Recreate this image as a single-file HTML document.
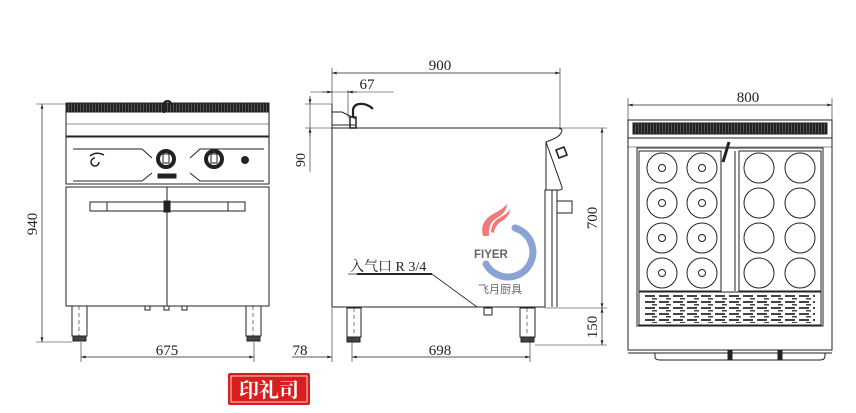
<!DOCTYPE html>
<html><head><meta charset="utf-8"><style>
html,body{margin:0;padding:0;background:#fff;width:856px;height:413px;overflow:hidden}
svg{display:block}
text{font-family:"Liberation Serif",serif;fill:#222}
</style></head><body>
<svg width="856" height="413" viewBox="0 0 856 413" xmlns="http://www.w3.org/2000/svg">
<defs>
<pattern id="gr" width="3" height="8" patternUnits="userSpaceOnUse"><rect width="3" height="8" fill="#555"/><rect width="2" height="8" fill="#222"/></pattern>
<pattern id="vent" width="14" height="6" patternUnits="userSpaceOnUse"><rect width="14" height="6" fill="#fff"/><rect x="1" y="1" width="10" height="2" fill="#444"/><rect x="8" y="4" width="5" height="1.5" fill="#444"/></pattern>
<marker id="a" viewBox="0 0 10 6" refX="10" refY="3" markerWidth="8" markerHeight="4" orient="auto-start-reverse"><path d="M0,0L10,3L0,6z" fill="#222"/></marker>
</defs>
<g fill="none" stroke="#222" stroke-width="1">
<!-- FRONT VIEW -->
<rect x="66" y="103" width="203" height="9" fill="url(#gr)"/>
<rect x="66" y="112" width="203" height="24"/>
<line x1="66" y1="124" x2="269" y2="124" stroke-width="0.6"/>
<rect x="66" y="137" width="203" height="47"/>
<path d="M73,149H142L152,158M152,173L142,181H73M264,149H200L190,158M190,173L200,181H264"/>
<circle cx="166" cy="159" r="8" stroke-width="4"/><circle cx="214" cy="159" r="8" stroke-width="4"/>
<rect x="163" y="154" width="6" height="9" fill="#fff" stroke-width="1"/><rect x="211" y="154" width="6" height="9" fill="#fff" stroke-width="1"/>
<circle cx="245" cy="160" r="3.5" fill="#222"/>
<path d="M90,156Q96,151 104,155M95,158a4,4 0 1 0 4,4" stroke-width="1.5"/>
<rect x="158" y="174" width="18" height="4" fill="#222"/>
<path d="M164,113V104q0,-3 4,-3q3,0 3,4" stroke-width="2"/>
<rect x="66" y="187" width="203" height="119"/>
<line x1="167" y1="187" x2="167" y2="306"/>
<rect x="90" y="202" width="155" height="9"/><line x1="107" y1="202" x2="107" y2="211"/><line x1="228" y1="202" x2="228" y2="211"/>
<rect x="164" y="201" width="6" height="11" fill="#222"/>
<rect x="72" y="306" width="15" height="30"/><rect x="246" y="306" width="15" height="30"/>
<rect x="73" y="336" width="13" height="5" fill="#444"/><rect x="247" y="336" width="13" height="5" fill="#444"/>
<line x1="79" y1="306" x2="79" y2="336" stroke-dasharray="4,3" stroke-width="0.6"/><line x1="253" y1="306" x2="253" y2="336" stroke-dasharray="4,3" stroke-width="0.6"/>
<rect x="145" y="306" width="5" height="4"/><rect x="164" y="306" width="5" height="4"/><rect x="182" y="306" width="5" height="4"/>
<!-- dims front -->
<line x1="36" y1="104" x2="66" y2="104" stroke-width="0.6"/><line x1="36" y1="342" x2="72" y2="342" stroke-width="0.6"/>
<line x1="42" y1="104" x2="42" y2="342" marker-start="url(#a)" marker-end="url(#a)" stroke-width="0.7"/>
<line x1="81" y1="342" x2="81" y2="362" stroke-width="0.6"/><line x1="254" y1="342" x2="254" y2="362" stroke-width="0.6"/>
<line x1="81" y1="357" x2="254" y2="357" marker-start="url(#a)" marker-end="url(#a)" stroke-width="0.7"/>
<!-- SIDE VIEW -->
<path d="M332,128H558q6,0 3,5q-2,4 -10,7L546,142l16,45q1,3 -3,3H545V307H332Z"/>
<line x1="546" y1="142" x2="546" y2="190"/>
<path d="M552,190V307M557,190V307"/>
<rect x="557" y="201" width="15" height="12"/>
<path d="M556,150l8,-3l3,8l-8,3z" stroke-width="1.6"/>
<path d="M332,104v24M332,112h10l14,7v6h-24" />
<rect x="350" y="117" width="6" height="11" stroke-width="1.5"/>
<path d="M353,117V111q0,-6 6,-7q8,-1 14,5" stroke-width="2.2"/>
<rect x="347" y="308" width="14" height="29"/><rect x="520" y="308" width="15" height="29"/>
<rect x="347" y="337" width="13" height="5" fill="#444"/><rect x="521" y="337" width="13" height="5" fill="#444"/>
<line x1="354" y1="308" x2="354" y2="336" stroke-dasharray="4,3" stroke-width="0.6"/><line x1="527" y1="308" x2="527" y2="336" stroke-dasharray="4,3" stroke-width="0.6"/>
<rect x="484" y="308" width="8" height="7"/>
<path d="M348,274H432L477,307" stroke-width="0.8"/><line x1="357" y1="274" x2="432" y2="274" stroke-width="2"/>
<!-- dims side -->
<line x1="332" y1="68" x2="332" y2="128" stroke-width="0.6"/><line x1="560" y1="68" x2="560" y2="130" stroke-width="0.6"/>
<line x1="332" y1="73" x2="560" y2="73" marker-start="url(#a)" marker-end="url(#a)" stroke-width="0.7"/>
<line x1="310" y1="92" x2="394" y2="92" stroke-width="0.6"/><line x1="322" y1="92" x2="332" y2="92" marker-end="url(#a)" stroke-width="0.7"/><line x1="357" y1="92" x2="348" y2="92" marker-end="url(#a)" stroke-width="0.7"/>
<line x1="348" y1="90" x2="348" y2="118" stroke-width="0.6"/>
<line x1="305" y1="104" x2="332" y2="104" stroke-width="0.6"/><line x1="305" y1="128" x2="332" y2="128" stroke-width="0.6"/>
<line x1="310" y1="98" x2="310" y2="172" stroke-width="0.6"/>
<line x1="310" y1="96" x2="310" y2="104" marker-end="url(#a)" stroke-width="0.7"/><line x1="310" y1="136" x2="310" y2="128" marker-end="url(#a)" stroke-width="0.7"/>
<line x1="560" y1="128" x2="607" y2="128" stroke-width="0.6"/><line x1="545" y1="308" x2="607" y2="308" stroke-width="0.6"/><line x1="535" y1="345" x2="607" y2="345" stroke-width="0.6"/>
<line x1="602" y1="128" x2="602" y2="308" marker-start="url(#a)" marker-end="url(#a)" stroke-width="0.7"/>
<line x1="602" y1="308" x2="602" y2="345" marker-start="url(#a)" marker-end="url(#a)" stroke-width="0.7"/>
<line x1="332" y1="308" x2="332" y2="362" stroke-width="0.6"/><line x1="352" y1="338" x2="352" y2="362" stroke-width="0.6"/><line x1="530" y1="338" x2="530" y2="362" stroke-width="0.6"/>
<line x1="292" y1="357" x2="332" y2="357" marker-end="url(#a)" stroke-width="0.7"/>
<line x1="352" y1="357" x2="530" y2="357" marker-start="url(#a)" marker-end="url(#a)" stroke-width="0.7"/>
<!-- TOP VIEW -->
<line x1="628" y1="98" x2="628" y2="120" stroke-width="0.6"/><line x1="832" y1="98" x2="832" y2="120" stroke-width="0.6"/>
<line x1="628" y1="105" x2="832" y2="105" marker-start="url(#a)" marker-end="url(#a)" stroke-width="0.7"/>
<rect x="628" y="120" width="204" height="230"/>
<rect x="633" y="123" width="194" height="11" fill="url(#gr)"/>
<line x1="628" y1="138" x2="832" y2="138"/>
<line x1="628" y1="147" x2="832" y2="147" stroke-width="0.6"/>
<rect x="637" y="148" width="186" height="178"/>
<rect x="639" y="151" width="82" height="140"/><rect x="739" y="151" width="82" height="140"/>
<line x1="735" y1="151" x2="735" y2="291"/>
<path d="M723,162l6,-20" stroke-width="3"/>
<g>
<circle cx="662" cy="168" r="15"/><circle cx="702" cy="168" r="15"/>
<circle cx="662" cy="203" r="15"/><circle cx="702" cy="203" r="15"/>
<circle cx="662" cy="238" r="15"/><circle cx="702" cy="238" r="15"/>
<circle cx="662" cy="273" r="15"/><circle cx="702" cy="273" r="15"/>
<circle cx="662" cy="168" r="3.5"/><circle cx="702" cy="168" r="3.5"/>
<circle cx="662" cy="203" r="3.5"/><circle cx="702" cy="203" r="3.5"/>
<circle cx="662" cy="238" r="3.5"/><circle cx="702" cy="238" r="3.5"/>
<circle cx="662" cy="273" r="3.5"/><circle cx="702" cy="273" r="3.5"/>
<circle cx="759" cy="168" r="15"/><circle cx="800" cy="168" r="15"/>
<circle cx="759" cy="203" r="15"/><circle cx="800" cy="203" r="15"/>
<circle cx="759" cy="238" r="15"/><circle cx="800" cy="238" r="15"/>
<circle cx="759" cy="273" r="15"/><circle cx="800" cy="273" r="15"/>
</g>
<rect x="639" y="292" width="182" height="33"/>
<rect x="645" y="295" width="170" height="28" fill="url(#vent)" stroke="none"/>
<path d="M628,350H832M628,353H832M655,353v4q0,3 5,3H820q5,0 5,-4v-3"/>
<rect x="728" y="350" width="4" height="10" fill="#222"/><rect x="778" y="350" width="4" height="9" fill="#222"/>
</g>
<!-- text -->
<text x="440" y="70" font-size="15" text-anchor="middle">900</text>
<text x="367" y="89" font-size="15" text-anchor="middle">67</text>
<text x="748" y="102" font-size="15" text-anchor="middle">800</text>
<text x="167" y="355" font-size="15" text-anchor="middle">675</text>
<text x="300" y="355" font-size="15" text-anchor="middle">78</text>
<text x="440" y="355" font-size="15" text-anchor="middle">698</text>
<text transform="translate(37,224) rotate(-90)" font-size="15" text-anchor="middle">940</text>
<text transform="translate(305,160) rotate(-90)" font-size="14" text-anchor="middle">90</text>
<text transform="translate(597,218) rotate(-90)" font-size="15" text-anchor="middle">700</text>
<text transform="translate(597,327) rotate(-90)" font-size="15" text-anchor="middle">150</text>
<text x="350" y="271" font-size="14" style='font-family:"Liberation Serif","Noto Serif CJK SC",serif'>入气口 R 3/4</text>
<!-- logo -->
<path d="M483,236q-4,-14 10,-22q10,-5 14,-10q0,8 -10,14q-9,5 -8,18z" fill="#ee7b7b"/>
<path d="M491,232q0,-10 10,-15q7,-4 9,-8q0,7 -8,12q-7,4 -8,12z" fill="#ee7b7b"/>
<path d="M486,264A25,25 0 1 0 515,228" fill="none" stroke="#8aa2d4" stroke-width="7" stroke-linecap="round"/>
<text x="474" y="258" font-size="11.5" font-weight="bold" style='font-family:"Liberation Sans",sans-serif;fill:#666'>FIYER</text>
<text x="478" y="293" font-size="11" style='font-family:"Liberation Sans","Noto Sans CJK SC",sans-serif;fill:#666'>飞月厨具</text>
<!-- stamp -->
<rect x="228" y="373" width="82" height="32" rx="2" fill="#d81e1e"/>
<rect x="231" y="376" width="76" height="26" fill="none" stroke="#fff" stroke-width="0.8"/>
<text x="269" y="397" font-size="20" font-weight="bold" text-anchor="middle" style='font-family:"Noto Serif CJK SC","Noto Sans CJK SC",serif;fill:#fff'>印礼司</text>
</svg>
</body></html>
